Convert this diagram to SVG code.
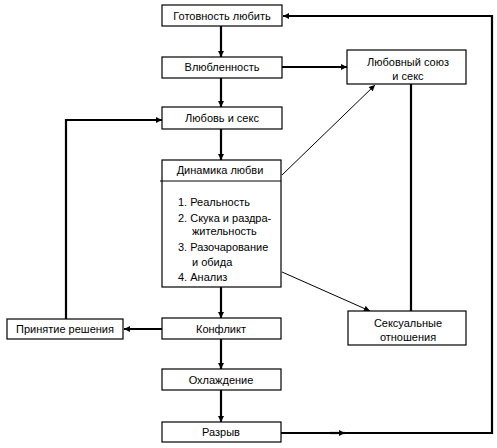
<svg xmlns="http://www.w3.org/2000/svg" width="497" height="448" viewBox="0 0 497 448">
<style>
.box{fill:#fff;stroke:#000;stroke-width:1.2}
.t{font-family:"Liberation Sans",Arial,sans-serif;font-size:11px;fill:#000}
.c{text-anchor:middle}
.thick{fill:none;stroke:#000;stroke-width:2.2}
.thin{fill:none;stroke:#000;stroke-width:1}
</style>
<defs>
<marker id="ah" viewBox="0 0 10 10" refX="10" refY="5" markerWidth="8" markerHeight="6" markerUnits="userSpaceOnUse" orient="auto">
<path d="M0,0 L10,5 L0,10 z" fill="#000"/>
</marker>
</defs>
<rect width="497" height="448" fill="#fff"/>
<g id="connectors">
<line class="thick" x1="221" y1="26" x2="221" y2="57" marker-end="url(#ah)"/>
<line class="thick" x1="221" y1="78" x2="221" y2="107" marker-end="url(#ah)"/>
<line class="thick" x1="221" y1="129" x2="221" y2="160" marker-end="url(#ah)"/>
<line class="thick" x1="221" y1="287" x2="221" y2="318" marker-end="url(#ah)"/>
<line class="thick" x1="221" y1="339" x2="221" y2="369" marker-end="url(#ah)"/>
<line class="thick" x1="221" y1="390" x2="221" y2="422" marker-end="url(#ah)"/>
<line class="thick" x1="282" y1="67" x2="347" y2="67" marker-end="url(#ah)"/>
<line class="thick" x1="162" y1="329" x2="124" y2="329" marker-end="url(#ah)"/>
<polyline class="thick" points="66,319 66,120 162,120" marker-end="url(#ah)"/>
<line class="thin" x1="282" y1="175" x2="375" y2="85" marker-end="url(#ah)"/>
<line class="thin" x1="282" y1="272" x2="370" y2="311" marker-end="url(#ah)"/>
<line class="thick" x1="411" y1="84" x2="411" y2="311"/>
<polyline class="thick" points="281,433 492,433 492,16 283,16" marker-end="url(#ah)"/>
<line class="thick" x1="330" y1="433" x2="345" y2="433" marker-end="url(#ah)"/>
</g>
<g id="n1"><rect class="box" x="162" y="5" width="120" height="21"/><text class="t c" x="222" y="20">Готовность любить</text></g>
<g id="n2"><rect class="box" x="162" y="57" width="120" height="21"/><text class="t c" x="222" y="71">Влюбленность</text></g>
<g id="n3"><rect class="box" x="162" y="107" width="120" height="22"/><text class="t c" x="222" y="122">Любовь и секс</text></g>
<g id="n4"><rect class="box" x="162" y="160" width="119" height="127"/><line class="thin" x1="160" y1="181" x2="281" y2="181"/>
<text class="t c" x="220" y="174">Динамика любви</text>
<text class="t" x="178" y="206">1. Реальность</text>
<text class="t" x="178" y="222">2. Скука и раздра-</text>
<text class="t" x="192" y="235">жительность</text>
<text class="t" x="178" y="251">3. Разочарование</text>
<text class="t" x="192" y="266">и обида</text>
<text class="t" x="178" y="281">4. Анализ</text></g>
<g id="n5"><rect class="box" x="347" y="50" width="119" height="34"/><text class="t c" x="408" y="66">Любовный союз</text><text class="t c" x="408" y="80">и секс</text></g>
<g id="n6"><rect class="box" x="348" y="311" width="118" height="34"/><text class="t c" x="408" y="327">Сексуальные</text><text class="t c" x="408" y="341">отношения</text></g>
<g id="n7"><rect class="box" x="7" y="319" width="116" height="20"/><text class="t c" x="65" y="333">Принятие решения</text></g>
<g id="n8"><rect class="box" x="162" y="318" width="119" height="21"/><text class="t c" x="221" y="333">Конфликт</text></g>
<g id="n9"><rect class="box" x="162" y="369" width="119" height="21"/><text class="t c" x="221" y="384">Охлаждение</text></g>
<g id="n10"><rect class="box" x="162" y="422" width="119" height="20"/><text class="t c" x="221" y="436">Разрыв</text></g>
</svg>
